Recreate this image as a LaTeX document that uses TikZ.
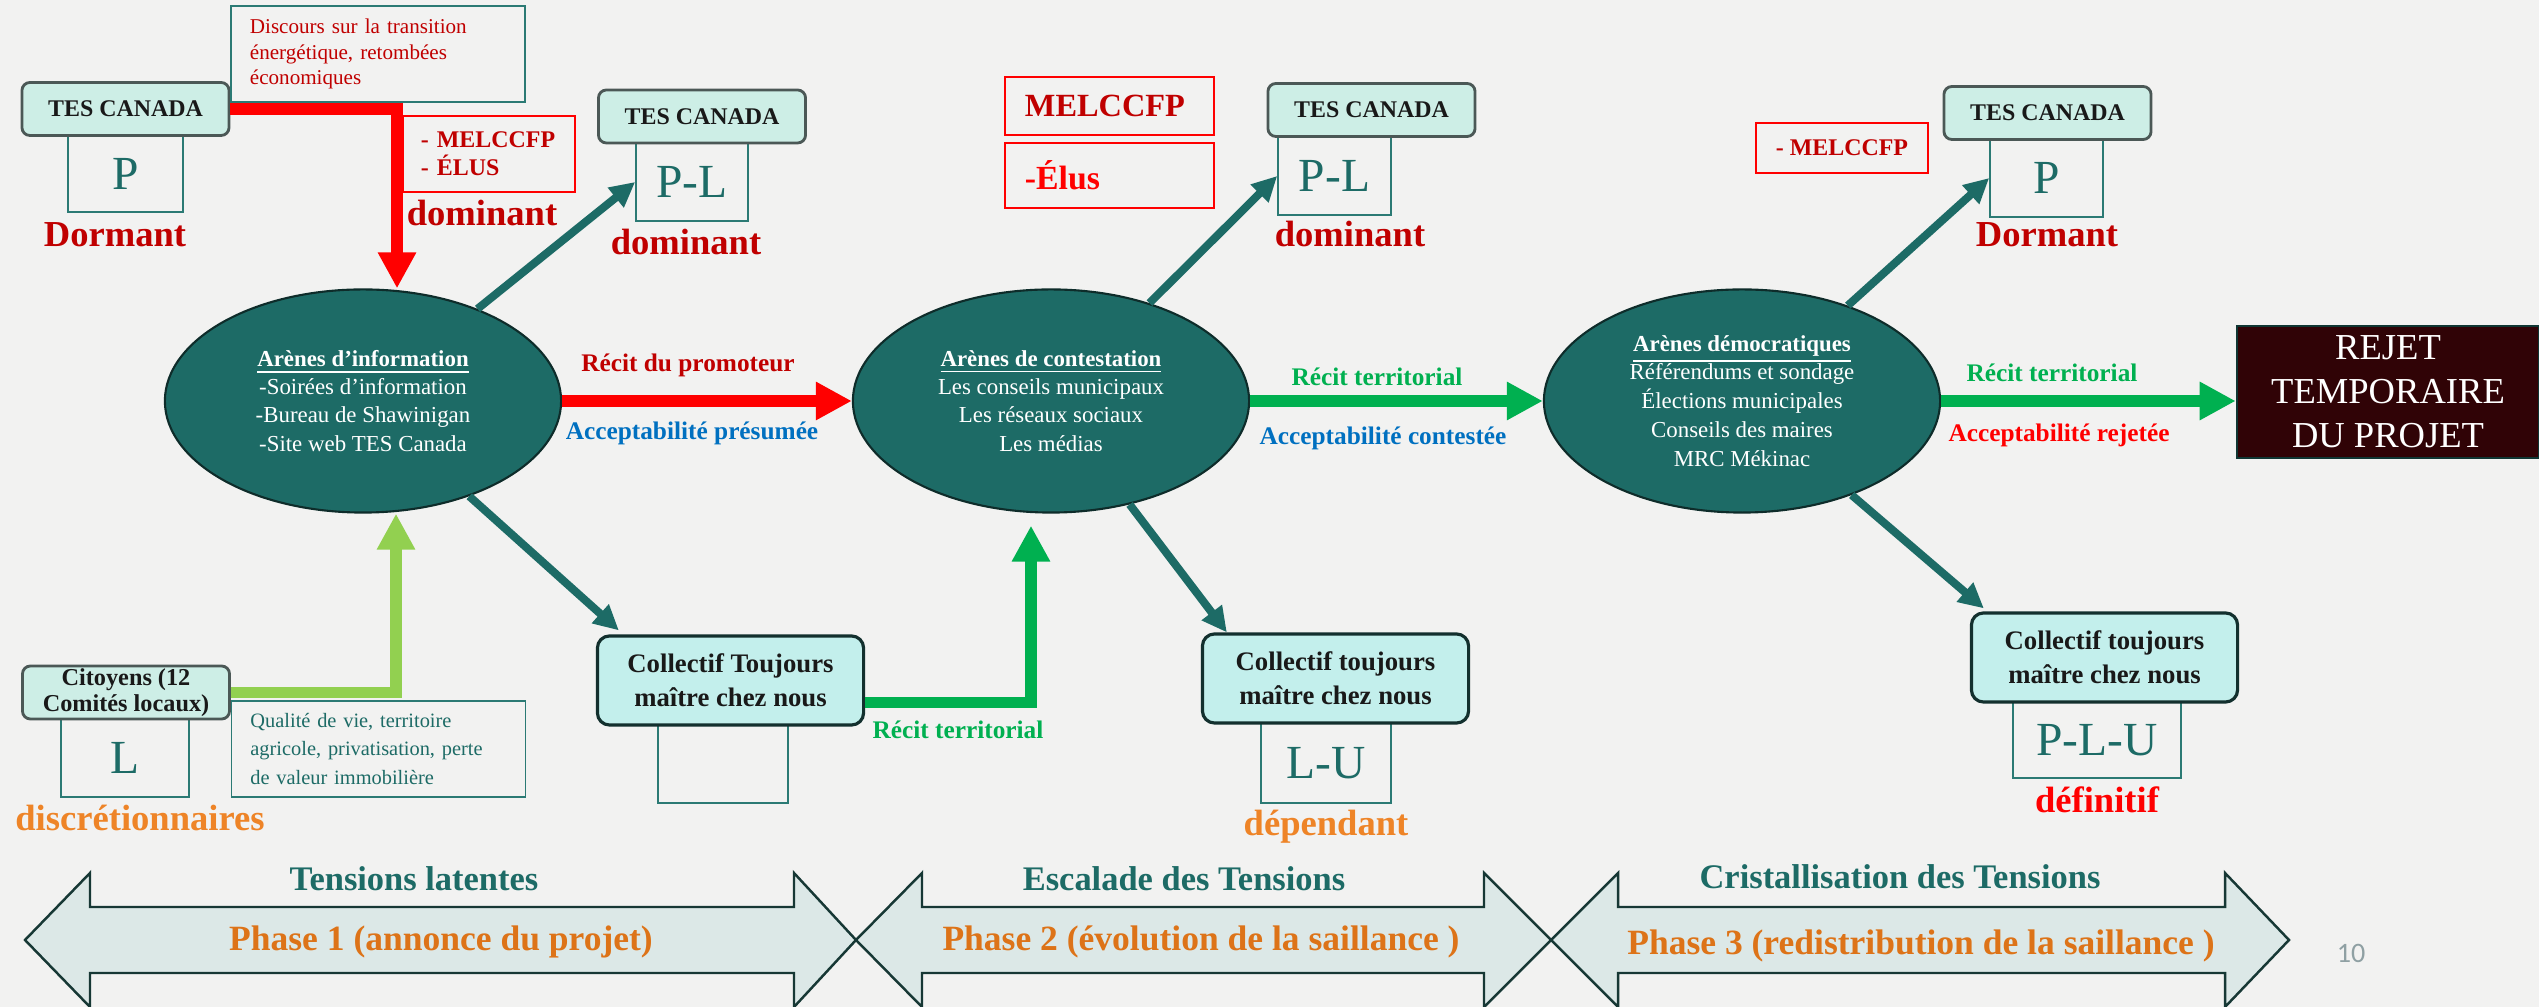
\documentclass[tikz,border=0pt]{standalone}
\usepackage{fontspec}
\setmainfont{Liberation Serif}
\newfontfamily\numfont{Carlito}
\usetikzlibrary{arrows,arrows.meta,shapes.geometric}

\definecolor{fond}{HTML}{F2F2F1}
\definecolor{sarcelle}{HTML}{1D6B66}
\definecolor{arenebord}{HTML}{0E2C2A}
\definecolor{valbord}{HTML}{2B7A74}
\definecolor{rougef}{HTML}{C00000}
\definecolor{rougev}{HTML}{FF0000}
\definecolor{bleua}{HTML}{0070C0}
\definecolor{vertr}{HTML}{00B050}
\definecolor{vertc}{HTML}{92D050}
\definecolor{orangea}{HTML}{EE8427}
\definecolor{orangep}{HTML}{DD7318}
\definecolor{tesfond}{HTML}{CDEEE6}
\definecolor{tesbord}{HTML}{4B5856}
\definecolor{collfond}{HTML}{C3EFEC}
\definecolor{collbord}{HTML}{13302E}
\definecolor{rejetfond}{HTML}{300306}
\definecolor{phasefond}{HTML}{DCE8E7}
\definecolor{phasebord}{HTML}{173835}
\definecolor{gris}{HTML}{8FA0A3}

\tikzset{
  acteur/.style={draw=tesbord, fill=tesfond, line width=0.8pt, rounded corners=0.08cm,
    inner sep=0pt, minimum width=2.07cm, minimum height=0.53cm, text=black!90,
    font=\bfseries\fontsize{6.8}{8}\selectfont},
  valeur/.style={draw=valbord, line width=0.45pt, inner sep=0pt, text=sarcelle,
    font=\fontsize{13.5}{15}\selectfont},
  collectif/.style={draw=collbord, fill=collfond, line width=0.9pt, rounded corners=0.12cm,
    inner sep=0pt, minimum width=2.66cm, minimum height=0.89cm, align=center, text=black!90,
    font=\bfseries\fontsize{7.6}{9.6}\selectfont},
  arene/.style={ellipse, draw=arenebord, fill=sarcelle, line width=0.6pt, inner sep=0pt,
    minimum width=3.96cm, minimum height=2.23cm, text=white, align=center,
    font=\fontsize{6.5}{8}\selectfont},
  etat/.style={inner sep=0pt, font=\bfseries\fontsize{10.4}{12}\selectfont},
  recit/.style={inner sep=0pt, font=\bfseries\fontsize{7.2}{8.6}\selectfont},
  note/.style={draw=valbord, line width=0.45pt, inner ysep=0pt, inner xsep=0.19cm,
    text width=2.56cm, minimum height=0.96cm, align=left, font=\fontsize{6}{7.3}\selectfont},
  cadre/.style={draw=rougev, line width=0.45pt, inner ysep=0pt, align=left},
  rejet/.style={draw=sarcelle!50!black, fill=rejetfond, line width=0.7pt, inner sep=0pt,
    minimum width=3.02cm, minimum height=1.32cm, text=white, align=center,
    font=\fontsize{10.4}{12.5}\selectfont},
  phasefl/.style={fill=phasefond, draw=phasebord, line width=0.7pt},
  tensiontxt/.style={inner sep=0pt, text=sarcelle, font=\bfseries\fontsize{9.8}{11}\selectfont},
  phasetxt/.style={inner sep=0pt, text=orangep, font=\bfseries\fontsize{10.1}{12}\selectfont},
  numero/.style={inner sep=0pt, text=gris, font=\numfont\fontsize{8}{9}\selectfont},
  fleche/.style={draw=sarcelle, line width=0.08cm, -{Triangle[length=0.25cm,width=0.24cm]}},
  grosse/.style={line width=0.115cm, -{Triangle[length=0.36cm,width=0.36cm]}},
}

\begin{document}
\begin{tikzpicture}[x=0.01cm,y=-0.01cm]

\fill[fond] (0,0) rectangle (2539,1007);
\useasboundingbox (0,0) rectangle (2539,1007);

% phase 1
\node[valeur, minimum width=1.15cm, minimum height=0.77cm] (p1) at (125.5,173.5) {P};
\node[acteur] (tes1) at (125.5,109) {TES CANADA};
\node[etat, text=rougef] (dorm1) at (115,235) {Dormant};
\node[note, text=rougef] (disc) at (378,54) {Discours sur la transition\\énergétique, retombées\\économiques};
\node[cadre, text=rougef, text width=1.36cm, inner xsep=0.18cm, minimum height=0.76cm,
  font=\bfseries\fontsize{6.8}{8}\selectfont] (mel1) at (489,154) {- MELCCFP\\- ÉLUS};
\node[etat, text=rougef] (dom1) at (482,213) {dominant};

\node[arene] (e1) at (363,401) {\textbf{\underline{Arènes d’information}}\\-Soirées d’information\\-Bureau de Shawinigan\\-Site web TES Canada};

\node[valeur, minimum width=1.28cm, minimum height=0.78cm] (l1) at (125,758) {L};
\node[acteur, font=\bfseries\fontsize{6.9}{7.4}\selectfont, align=center] (cit) at (126,692.5) {Citoyens (12\\Comités locaux)};
\node[etat, text=orangea] (discr) at (140,818) {discrétionnaires};
\node[note, text=sarcelle, minimum height=0.96cm, font=\fontsize{5.8}{8}\selectfont] (qual) at (378.5,749) {Qualité de vie, territoire\\agricole, privatisation, perte\\de valeur immobilière};

\node[valeur, minimum width=1.12cm, minimum height=0.78cm] (pl1) at (692,182) {P-L};
\node[acteur] (tes2) at (702,116.5) {TES CANADA};
\node[etat, text=rougef] (dom2) at (686,242) {dominant};

\node[valeur, minimum width=1.30cm, minimum height=0.78cm] (vide) at (723,764) {};
\node[collectif] (coll1) at (730.5,680.5) {Collectif Toujours\\maître chez nous};

\draw[grosse, rougev] (tes1.east) -| ([xshift=0.34cm]e1.north);
\draw[grosse, vertc] (cit.east) -| ([xshift=0.33cm]e1.south);
\draw[fleche] (e1) -- (pl1.west);
\draw[fleche] (e1) -- ([xshift=0.23cm,yshift=0.04cm]coll1.north west);

% phase 2
\node[cadre, text=rougef, text width=1.69cm, inner xsep=0.2cm, minimum height=0.58cm,
  font=\bfseries\fontsize{9.2}{11}\selectfont] (mel2) at (1109.5,106) {MELCCFP};
\node[cadre, text=rougev, text width=1.69cm, inner xsep=0.2cm, minimum height=0.65cm,
  font=\bfseries\fontsize{9.6}{11}\selectfont] (elus) at (1109.5,175.5) {-Élus};

\node[arene] (e2) at (1051,401) {\textbf{\underline{Arènes de contestation}}\\Les conseils municipaux\\Les réseaux sociaux\\Les médias};

\node[recit, text=rougef] (rp) at (688,365) {Récit du promoteur};
\node[recit, text=bleua] (ap) at (692,433) {Acceptabilité présumée};
\draw[grosse, rougev] (e1.east) -- (e2.west);

\node[recit, text=vertr] (rt1) at (958,730) {Récit territorial};
\draw[grosse, vertr] ([yshift=-0.22cm]coll1.east) -| ([xshift=-0.2cm,yshift=-0.12cm]e2.south);

\node[valeur, minimum width=1.13cm, minimum height=0.78cm] (pl2) at (1334.5,176) {P-L};
\node[acteur] (tes3) at (1371.5,110) {TES CANADA};
\node[etat, text=rougef] (dom3) at (1350,234) {dominant};

\node[valeur, minimum width=1.30cm, minimum height=0.80cm] (lu) at (1326,763) {L-U};
\node[collectif] (coll2) at (1335.5,678.5) {Collectif toujours\\maître chez nous};
\node[etat, text=orangea] (dep) at (1326,827) {dépendant};

\draw[fleche] (e2) -- (pl2.west);
\draw[fleche] (e2) -- ([xshift=0.26cm]coll2.north west);

% phase 3
\node[arene, font=\fontsize{6.5}{8.2}\selectfont] (e3) at (1742,401) {\textbf{\underline{Arènes démocratiques}}\\Référendums et sondage\\Élections municipales\\Conseils des maires\\MRC Mékinac};

\node[recit, text=vertr] (rt2) at (1377,377) {Récit territorial};
\node[recit, text=bleua] (ac) at (1383,438) {Acceptabilité contestée};
\draw[grosse, vertr] (e2.east) -- (e3.west);

\node[cadre, text=rougef, inner xsep=0pt, minimum width=1.72cm, minimum height=0.50cm,
  font=\bfseries\fontsize{6.8}{8}\selectfont] (mel3) at (1842,148) {- MELCCFP};

\node[valeur, minimum width=1.13cm, minimum height=0.78cm] (p3) at (2046.5,178) {P};
\node[acteur] (tes4) at (2047.5,113) {TES CANADA};
\node[etat, text=rougef] (dorm3) at (2047,235) {Dormant};

\node[valeur, minimum width=1.68cm, minimum height=0.76cm] (plu) at (2097,740) {P-L-U};
\node[collectif] (coll3) at (2104.5,657.5) {Collectif toujours\\maître chez nous};
\node[etat, text=rougev] (def) at (2097,800) {définitif};

\node[rejet] (rejet) at (2388,392) {REJET\\TEMPORAIRE\\DU PROJET};

\node[recit, text=vertr] (rt3) at (2052,373) {Récit territorial};
\node[recit, text=rougev] (ar) at (2059,435) {Acceptabilité rejetée};
\draw[grosse, vertr] (e3.east) -- (e3.east -| rejet.west);

\draw[fleche] (e3) -- (p3.west);
\draw[fleche] (e3) -- ([xshift=0.14cm,yshift=0.03cm]coll3.north west);

% fleches des phases
\filldraw[phasefl] (25,940) -- (90,873) -- (90,907) -- (794,907) -- (794,873) -- (856,940)
  -- (794,1007) -- (794,973) -- (90,973) -- (90,1007) -- cycle;
\filldraw[phasefl] (856,940) -- (922,873) -- (922,907) -- (1484,907) -- (1484,873) -- (1551,940)
  -- (1484,1007) -- (1484,973) -- (922,973) -- (922,1007) -- cycle;
\filldraw[phasefl] (1551,940) -- (1618,873) -- (1618,907) -- (2225,907) -- (2225,873) -- (2289,940)
  -- (2225,1007) -- (2225,973) -- (1618,973) -- (1618,1007) -- cycle;

\node[tensiontxt] (t1) at (414,879) {Tensions latentes};
\node[phasetxt] (ph1) at (441,942) {Phase 1 (annonce du projet)};
\node[tensiontxt] (t2) at (1184,879) {Escalade des Tensions};
\node[phasetxt] (ph2) at (1201,942) {Phase 2 (évolution de la saillance )};
\node[tensiontxt] (t3) at (1900,877) {Cristallisation des Tensions};
\node[phasetxt] (ph3) at (1921,946) {Phase 3 (redistribution de la saillance )};
\node[numero] (num) at (2351,953) {10};
\end{tikzpicture}
\end{document}
